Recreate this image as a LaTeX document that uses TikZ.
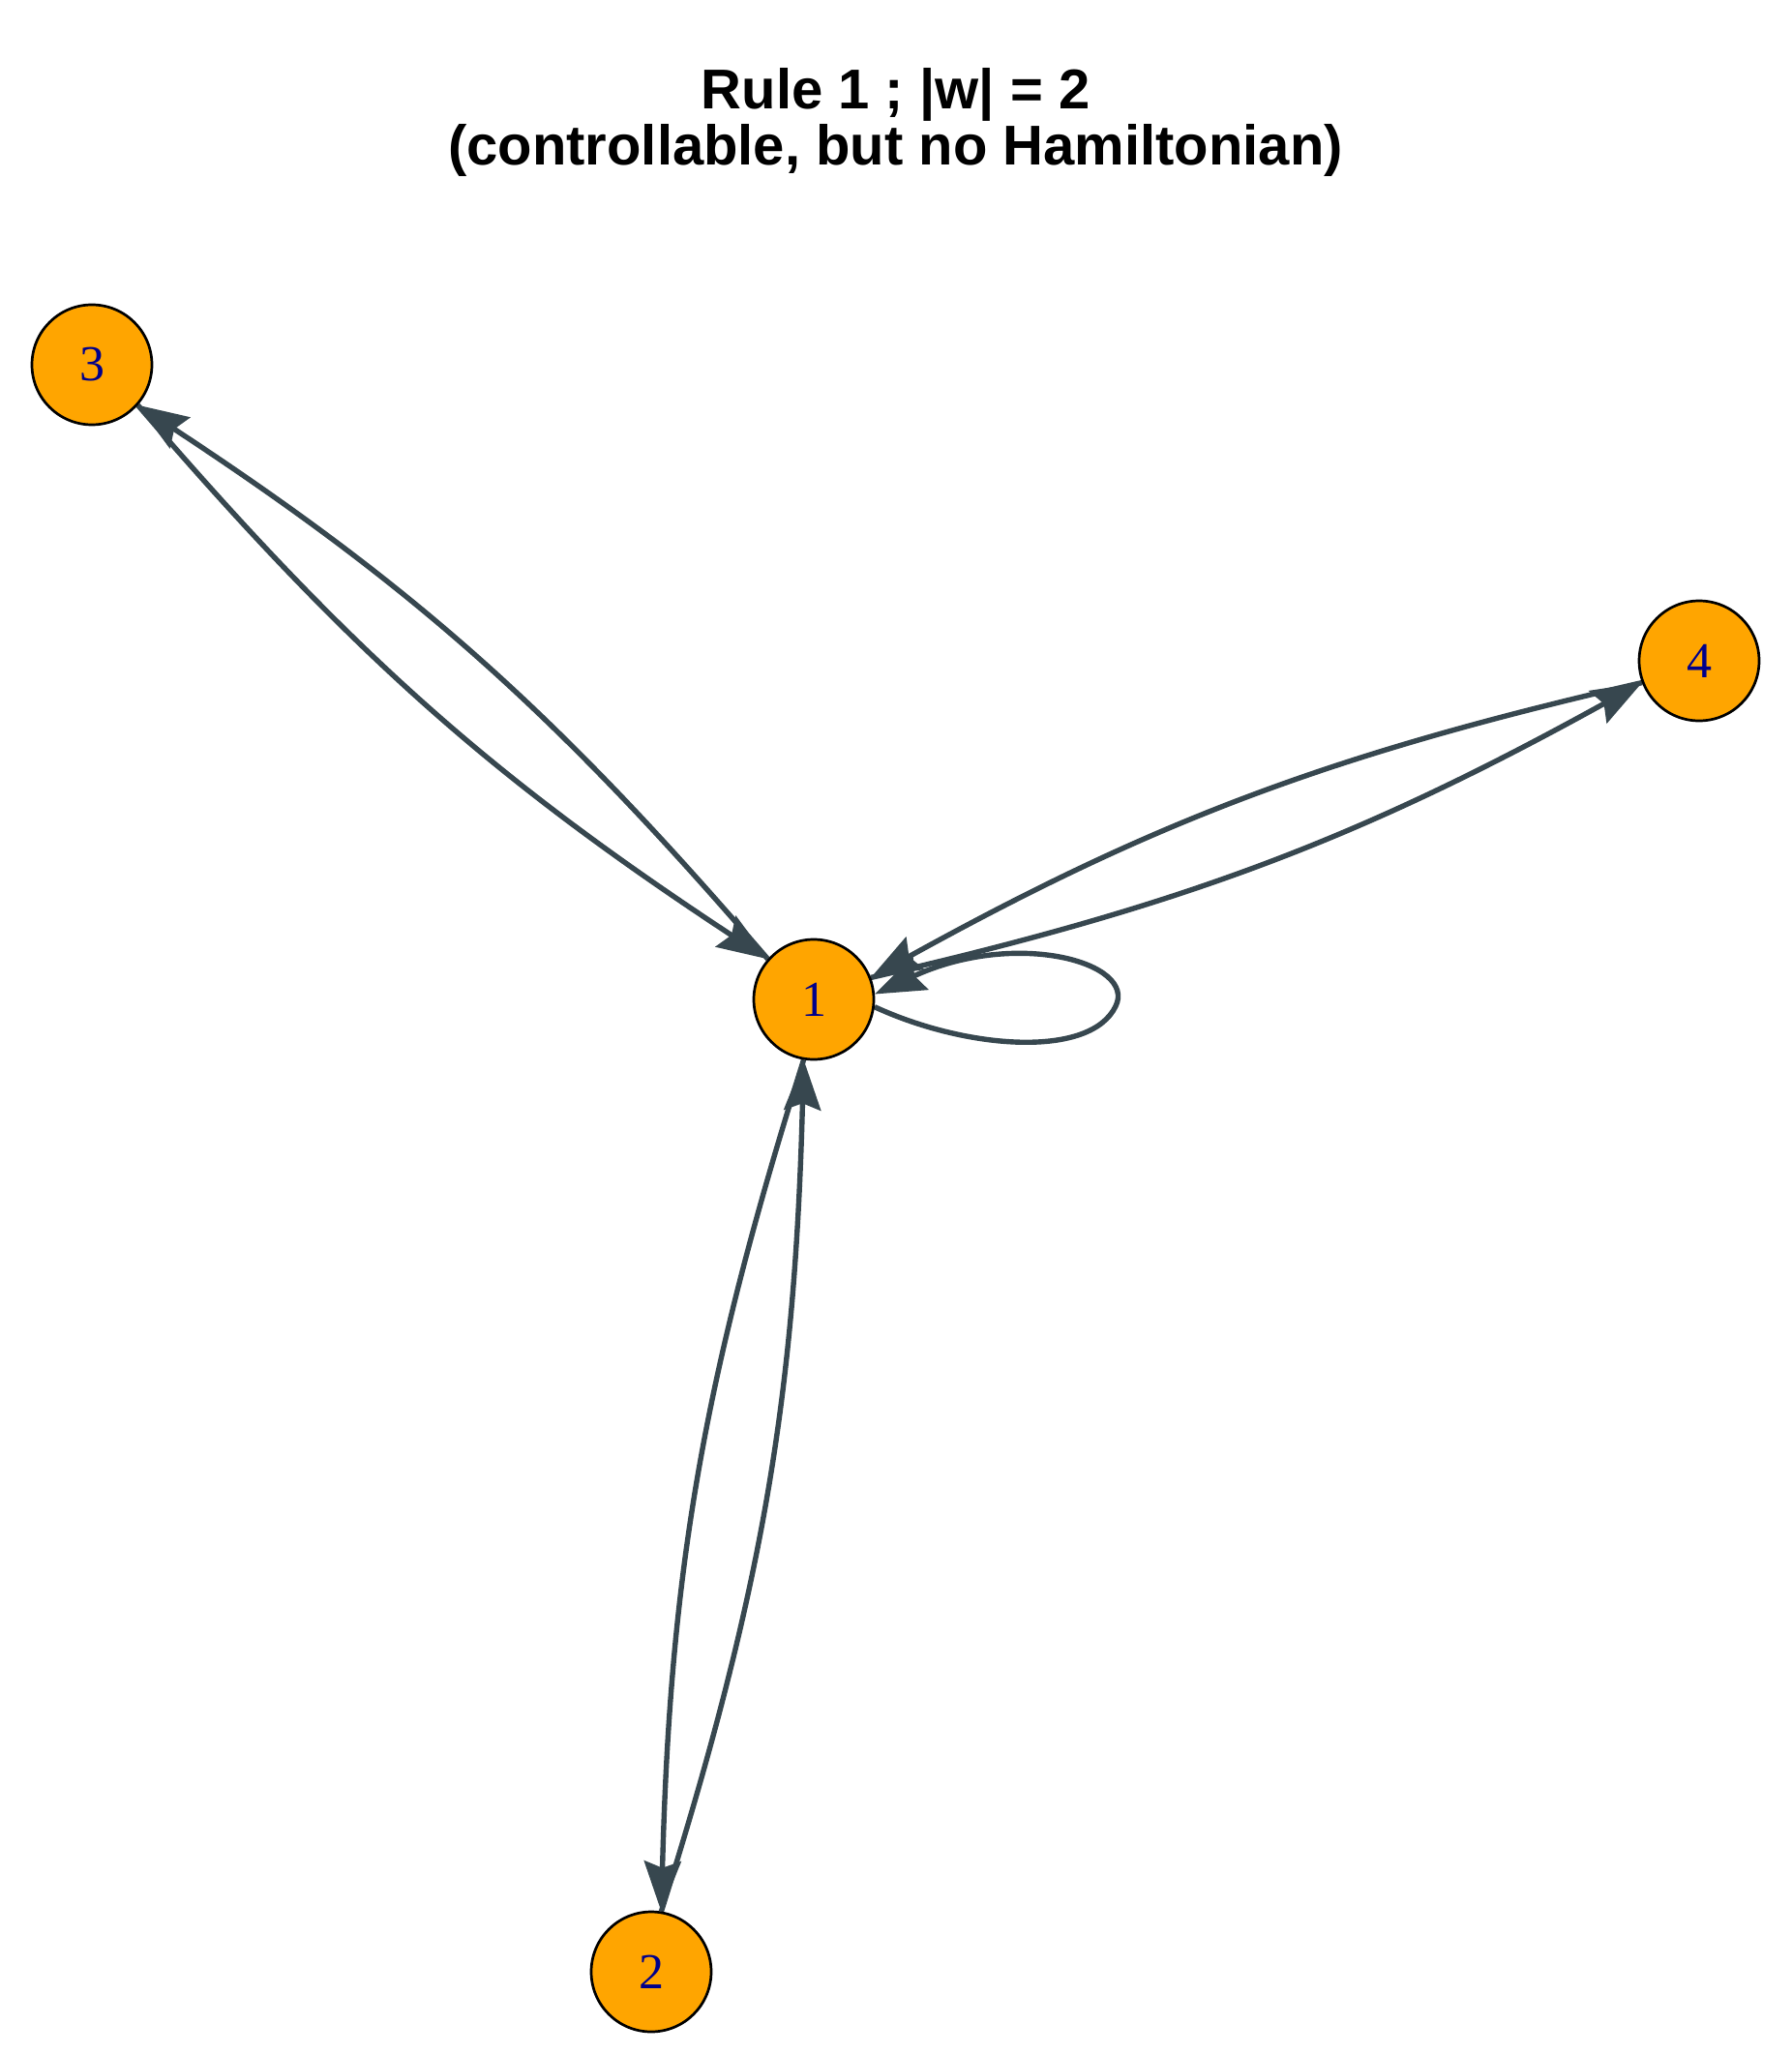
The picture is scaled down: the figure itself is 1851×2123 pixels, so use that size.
\documentclass[tikz,border=0pt]{standalone}
\usepackage{fontspec}
\setmainfont{Liberation Serif}
\newfontfamily\titlefont{Liberation Sans}
\usetikzlibrary{arrows.meta,calc,backgrounds}
\definecolor{nodeorange}{HTML}{FFA500}
\definecolor{edgegrey}{HTML}{37474F}
\definecolor{labelblue}{HTML}{00008B}
\tikzset{
  vertex/.style={circle, draw=black, line width=1.35pt, fill=nodeorange,
    minimum size=62pt, inner sep=0pt, font=\fontsize{26}{30}\selectfont, text=labelblue},
  edge/.style={draw=edgegrey, line width=2.7pt,
    -{Stealth[length=26pt,width=19pt,inset=3.5pt]}},
  titletext/.style={font=\titlefont\bfseries\fontsize{29}{34}\selectfont,
    anchor=base, inner sep=0pt},
}
\begin{document}
\begin{tikzpicture}[x=0.5pt,y=-0.5pt]
\useasboundingbox (0,0) rectangle (1851,2123);
\node[titletext] (t1) at (925.5,113) {Rule 1 ; |w| = 2};
\node[titletext] (t2) at (925.5,171) {(controllable, but no Hamiltonian)};
\node[vertex] (n1) at (841,1033) {1};
\node[vertex] (n2) at (673,2038) {2};
\node[vertex] (n3) at (95,377) {3};
\node[vertex] (n4) at (1756,683) {4};
\begin{scope}[on background layer]
  \fill[white] (0,0) rectangle (1851,2123);
  \coordinate (p13) at ($(n1)!31.6pt!(n3)$);
  \coordinate (p31) at ($(n3)!31.6pt!(n1)$);
  \coordinate (p14) at ($(n1)!31.6pt!(n4)$);
  \coordinate (p41) at ($(n4)!31.6pt!(n1)$);
  \coordinate (p12) at ($(n1)!31.6pt!(n2)$);
  \coordinate (p21) at ($(n2)!31.6pt!(n1)$);
  \draw[edge] (p13) to[bend right=8] (p31);
  \draw[edge] (p31) to[bend right=8] (p13);
  \draw[edge] (p14) to[bend right=8] (p41);
  \draw[edge] (p41) to[bend right=8] (p14);
  \draw[edge] (p12) to[bend right=8] (p21);
  \draw[edge] (p21) to[bend right=8] (p12);
  \draw[edge] (n1.-7) .. controls (1000,1085) and (1127,1094) .. (1153,1040)
    .. controls (1175,995) and (1050,960) .. (n1.5);
\end{scope}
\end{tikzpicture}
\end{document}
